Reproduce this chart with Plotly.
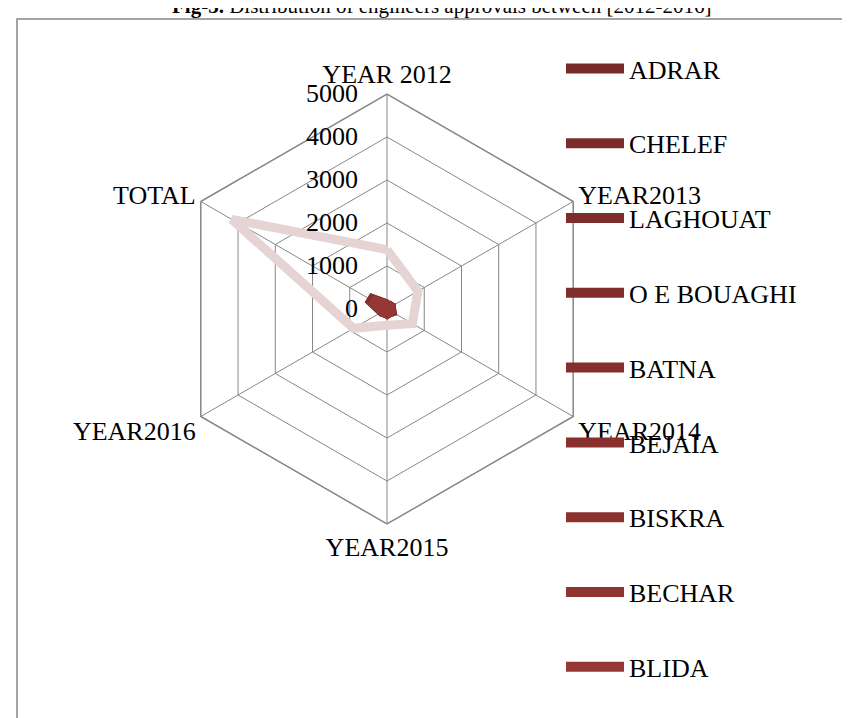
import plotly.graph_objects as go

categories = ["YEAR 2012", "YEAR2013", "YEAR2014", "YEAR2015", "YEAR2016", "TOTAL"]

series_names = ["ADRAR", "CHELEF", "LAGHOUAT", "O E BOUAGHI", "BATNA",
                "BEJAIA", "BISKRA", "BECHAR", "BLIDA", "ALGER"]

adrar = [95, 90, 110, 85, 120, 500]
chelef = [70, 80, 75, 90, 85, 400]
laghouat = [60, 70, 65, 80, 75, 350]
oeb = [55, 60, 70, 65, 70, 320]
batna = [90, 85, 100, 95, 110, 480]
bejaia = [80, 75, 85, 90, 95, 425]
biskra = [65, 60, 70, 75, 80, 350]
bechar = [30, 35, 40, 35, 40, 180]
blida = [75, 70, 80, 85, 90, 400]
alger = [1380, 830, 680, 380, 900, 4170]

series_values = [adrar, chelef, laghouat, oeb, batna, bejaia, biskra, bechar, blida, alger]

colors = ["#772B29", "#7A2C2A", "#7D2D2B", "#802E2C", "#842F2D",
          "#87302E", "#8B322F", "#8F3431", "#953735", "#E6D3D3"]

radial_ticks = [0, 1000, 2000, 3000, 4000, 5000]

FONT = "Liberation Serif"

fig = go.Figure()
for i, (name, vals) in enumerate(zip(series_names, series_values)):
    is_big = name == "ALGER"
    fig.add_trace(go.Scatterpolar(
        r=vals + vals[:1],
        theta=categories + categories[:1],
        mode="lines",
        name=name,
        line=dict(color=colors[i], width=9 if is_big else 11),
        showlegend=not is_big,
        legendgroup=name,
    ))

fig.update_layout(
    width=850, height=718,
    margin=dict(l=0, r=0, t=0, b=0),
    paper_bgcolor="white",
    plot_bgcolor="white",
    font=dict(family=FONT, size=26, color="black"),
    annotations=[dict(
        text="<b>Fig-3.</b> Distribution of engineers approvals between [2012-2016]",
        xref="paper", yref="paper", x=433/850, y=1, xanchor="center", yanchor="middle",
        yshift=2, showarrow=False,
        font=dict(family=FONT, size=21, color="black"),
    )],
    polar=dict(
        domain=dict(x=[164/850, 594/850], y=[1 - 516/718, 1 - 86/718]),
        bgcolor="white",
        gridshape="linear",
        angularaxis=dict(
            direction="clockwise", rotation=90,
            type="category",
            showline=True, linecolor="#868686", linewidth=1.5,
            gridcolor="#868686", gridwidth=1.2,
            ticks="",
            tickfont=dict(family=FONT, size=26, color="black"),
        ),
        radialaxis=dict(
            range=[0, 5000], tickvals=radial_ticks,
            ticktext=[str(v) + "\u00a0\u00a0\u00a0\u2009" for v in radial_ticks],
            angle=90, tickangle=90,
            side="counterclockwise",
            showline=False, ticks="",
            gridcolor="#868686", gridwidth=1.2,
            tickfont=dict(family=FONT, size=26, color="black"),
        ),
    ),
    legend=dict(
        x=553/850, y=1 - 37/718, xanchor="left", yanchor="top",
        font=dict(family=FONT, size=26, color="black"),
        itemwidth=58,
        tracegroupgap=38,
        bgcolor="rgba(0,0,0,0)",
    ),
    shapes=[dict(type="rect", xref="paper", yref="paper",
                 x0=9/850, x1=1.05, y0=-0.05, y1=1 - 11/718,
                 line=dict(color="#868686", width=1.5))],
)

fig.write_html("out.html")
